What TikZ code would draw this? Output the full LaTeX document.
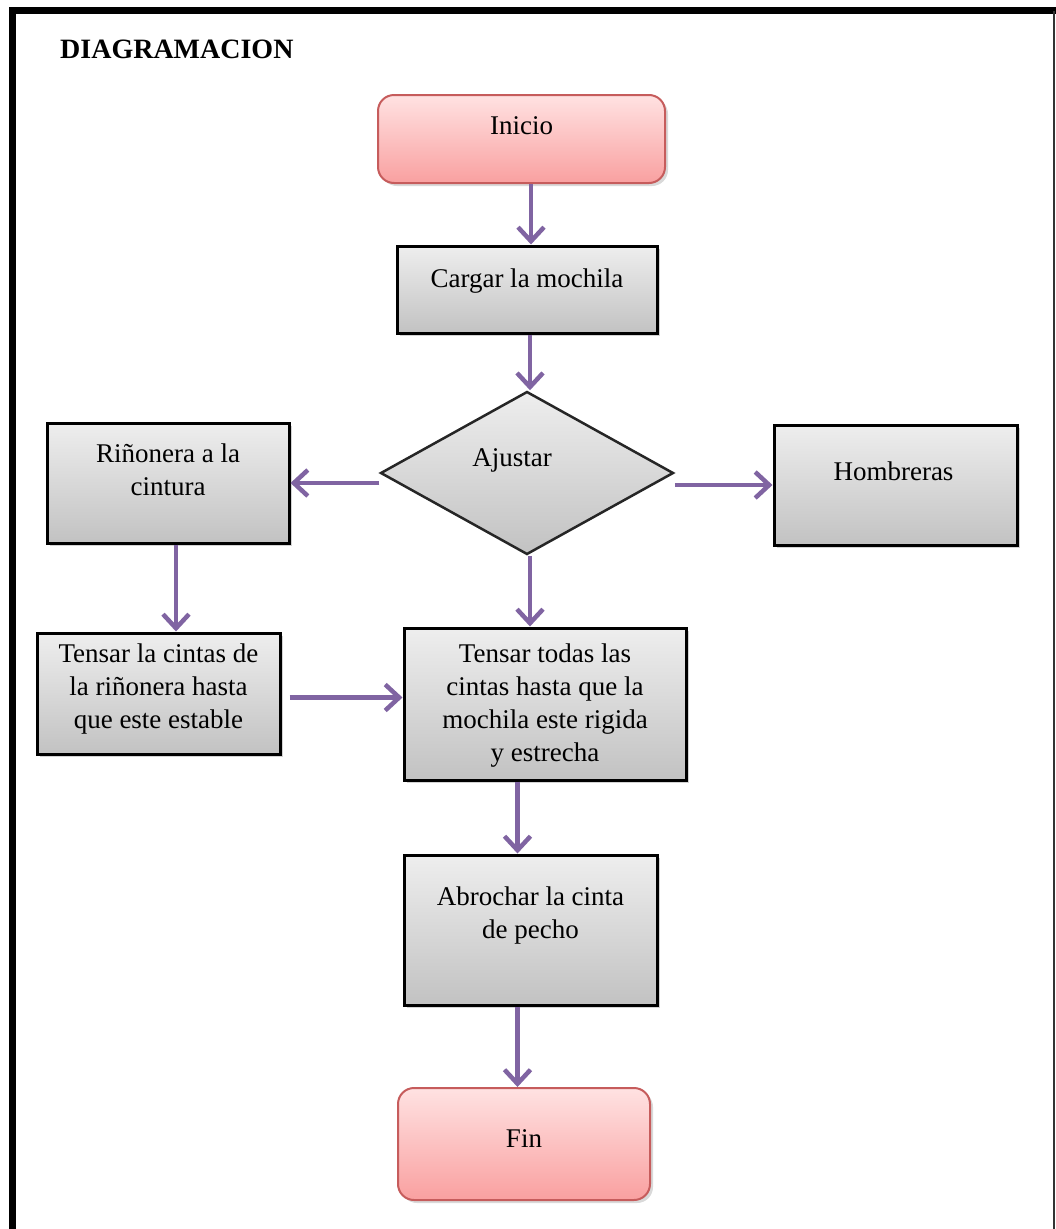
\documentclass[tikz,border=0pt]{standalone}
\usepackage{fontspec}
\setmainfont{Liberation Serif}
\usetikzlibrary{positioning,arrows.meta,shapes.geometric,shadows}

\definecolor{grisclaro}{RGB}{238,238,238}
\definecolor{grisoscuro}{RGB}{194,194,194}
\definecolor{rosaclaro}{RGB}{255,226,226}
\definecolor{rosaoscuro}{RGB}{249,160,160}
\definecolor{rosaborde}{RGB}{198,92,92}
\definecolor{morado}{RGB}{128,100,162}

\begin{document}
\begin{tikzpicture}[x=1pt, y=-1pt,
pasobox/.style={rectangle, draw=black, line width=3pt, top color=grisclaro, bottom color=grisoscuro, inner sep=0pt, drop shadow={shadow xshift=3pt, shadow yshift=-3pt, opacity=0.35}},
iniciobox/.style={rectangle, rounded corners=16pt, draw=rosaborde, line width=2pt, top color=rosaclaro, bottom color=rosaoscuro, inner sep=0pt, drop shadow={shadow xshift=3pt, shadow yshift=-3pt, opacity=0.3}},
decision/.style={diamond, draw=black!85, line width=2.5pt, top color=grisclaro, bottom color=grisoscuro, inner sep=0pt},
texto/.style={font=\fontsize{27}{33}\selectfont, align=center, inner sep=0pt, anchor=north},
flecha/.style={morado, line width=4.5pt, -{Straight Barb[length=14pt, width=26pt]}},
]
\useasboundingbox (0,0) rectangle (1056,1229);

%Marco
\draw[line width=7pt] (12.5,1229) -- (12.5,10.5) -- (1056,10.5);
\draw[line width=2pt, black!80] (1054,10.5) -- (1054,1229);
\node[anchor=west, inner sep=0pt, font=\bfseries\fontsize{28}{33}\selectfont] (titulo) at (60,49) {DIAGRAMACION};

%Nodes
\node[iniciobox, minimum width=287pt, minimum height=88pt]  (inicio)       at (521.5,139)  {};
\node[pasobox,   minimum width=260pt, minimum height=87pt]  (cargar)       at (527,289.5)  {};
\node[decision,  minimum width=293pt, minimum height=163pt] (ajustar)      at (527,473)    {};
\node[pasobox,   minimum width=242pt, minimum height=120pt] (rinonera)     at (168,483)    {};
\node[pasobox,   minimum width=243pt, minimum height=120pt] (hombreras)    at (895.5,485)  {};
\node[pasobox,   minimum width=243pt, minimum height=121pt] (tensarcintas) at (158.5,693.5){};
\node[pasobox,   minimum width=282pt, minimum height=152pt] (tensartodas)  at (545,704)    {};
\node[pasobox,   minimum width=253pt, minimum height=150pt] (abrochar)     at (530.5,930)  {};
\node[iniciobox, minimum width=252pt, minimum height=112pt] (fin)          at (524,1144)   {};

%Textos
\node[texto] (inicioT)       at ([yshift=-22pt]inicio.north)       {Inicio};
\node[texto] (cargarT)       at ([yshift=-24pt]cargar.north)       {Cargar la mochila};
\node[texto, anchor=center] (ajustarT) at ([xshift=-15pt, yshift=13pt]ajustar.center) {Ajustar};
\node[texto] (rinoneraT)     at ([yshift=-22pt]rinonera.north)     {Riñonera a la\\cintura};
\node[texto] (hombrerasT)    at ([xshift=-2pt, yshift=-38pt]hombreras.north) {Hombreras};
\node[texto] (tensarcintasT) at ([yshift=-12pt]tensarcintas.north) {Tensar la cintas de\\la riñonera hasta\\que este estable};
\node[texto] (tensartodasT)  at ([yshift=-17pt]tensartodas.north)  {Tensar todas las\\cintas hasta que la\\mochila este rigida\\y estrecha};
\node[texto] (abrocharT)     at ([yshift=-33pt]abrochar.north)     {Abrochar la cinta\\de pecho};
\node[texto] (finT)          at ([yshift=-42pt]fin.north)          {Fin};

%Lines
\draw[flecha] ([xshift=9.5pt]inicio.south) -- ([xshift=9.5pt]inicio.south |- cargar.north);
\draw[flecha] ([xshift=3pt]cargar.south) -- ([xshift=3pt]cargar.south |- ajustar.north);
\draw[flecha] (ajustar.west |- rinonera.east) -- (rinonera.east);
\draw[flecha] (ajustar.east |- hombreras.west) -- (hombreras.west);
\draw[flecha] ([xshift=3pt]ajustar.south) -- ([xshift=3pt]ajustar.south |- tensartodas.north);
\draw[flecha] ([xshift=8pt]rinonera.south) -- ([xshift=8pt]rinonera.south |- tensarcintas.north);
\draw[flecha, shorten <=8pt] ([yshift=-4pt]tensarcintas.east) -- ([yshift=-4pt]tensarcintas.east -| tensartodas.west);
\draw[flecha] ([xshift=-13pt]abrochar.north |- tensartodas.south) -- ([xshift=-13pt]abrochar.north);
\draw[flecha] ([xshift=-13pt]abrochar.south) -- ([xshift=-13pt]abrochar.south |- fin.north);
\end{tikzpicture}
\end{document}
